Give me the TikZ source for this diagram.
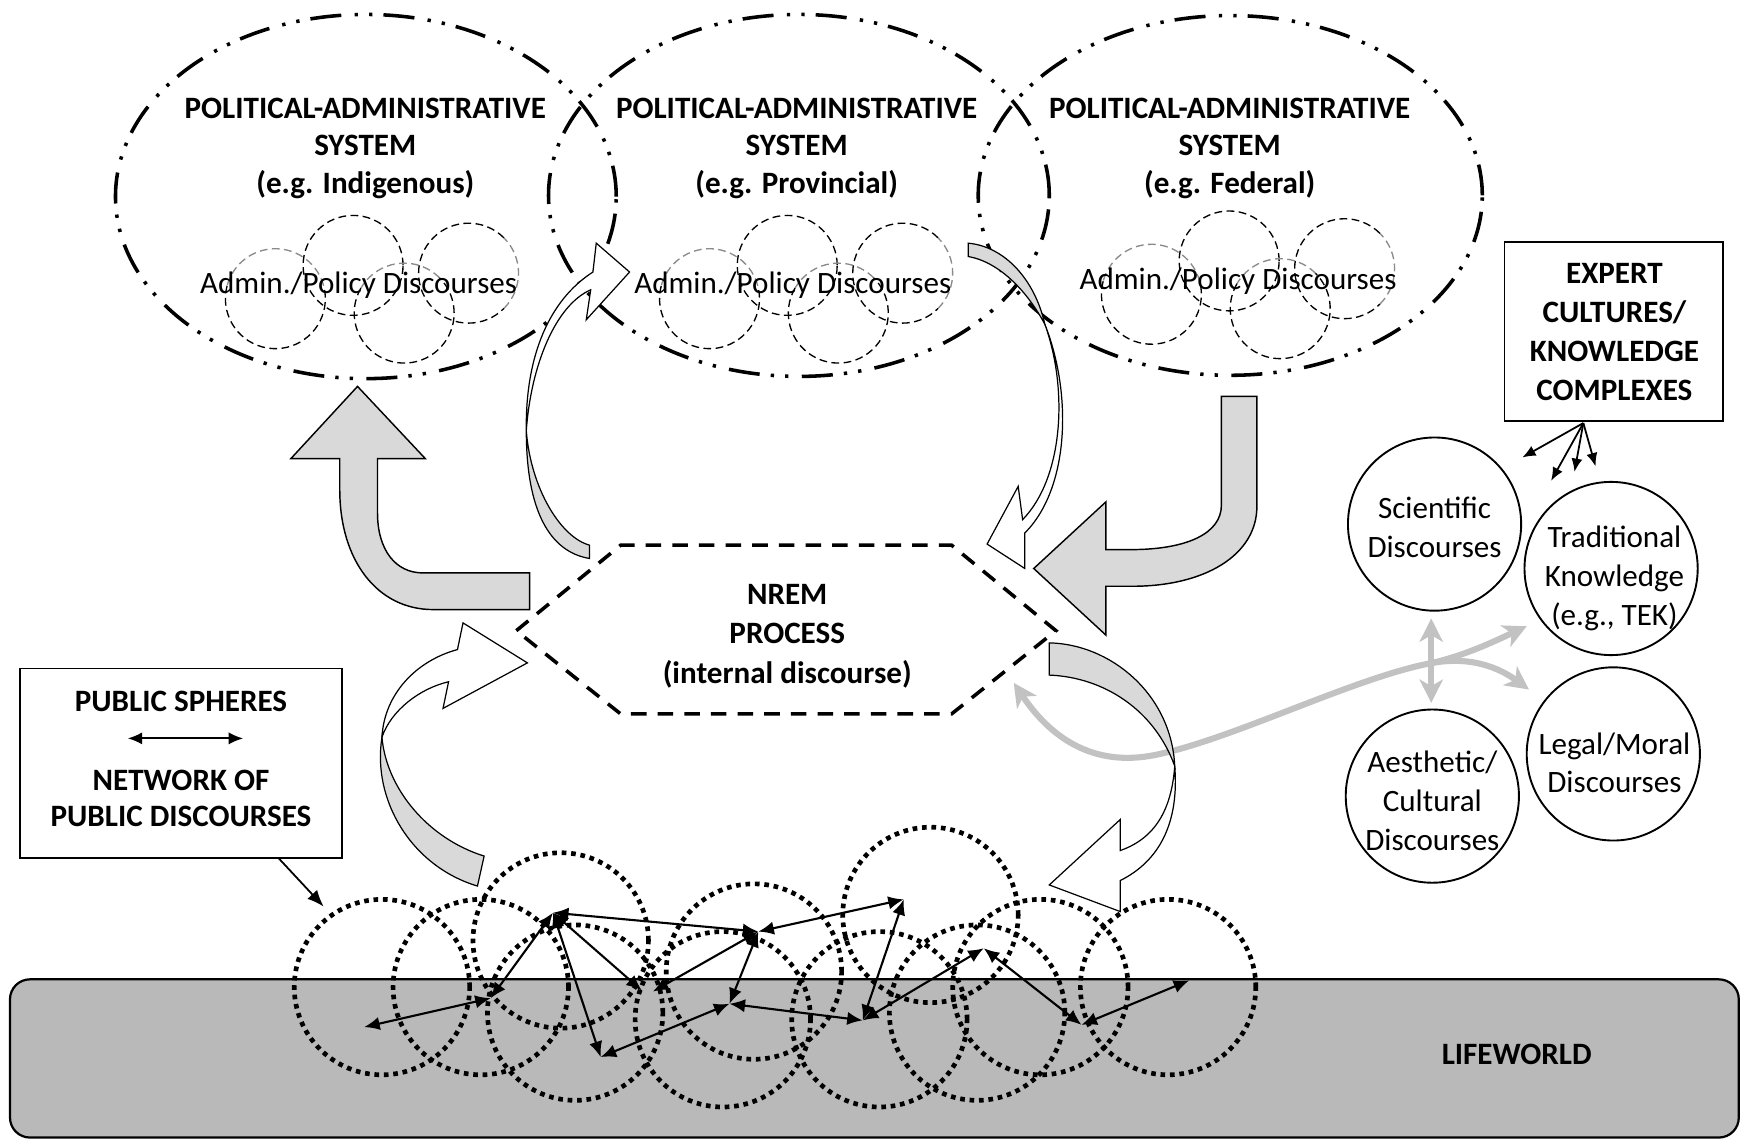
\documentclass[tikz,border=0pt]{standalone}
\usepackage{fontspec}
\setmainfont{Carlito}
\usetikzlibrary{arrows.meta}
\definecolor{lifegray}{HTML}{B9B9B9}
\definecolor{arrowgray}{HTML}{D9D9D9}
\definecolor{linkgray}{HTML}{C2C2C2}
\definecolor{cloudgray}{HTML}{8A8A8A}

\begin{document}
\begin{tikzpicture}[x=1pt,y=-1pt,
  txt/.style={font=\fontsize{28}{35}\selectfont, align=center, inner sep=0pt},
  boldtxt/.style={txt, font=\fontsize{28}{34}\selectfont\bfseries},
  system/.style={draw, line width=3.2pt, dash pattern=on 28pt off 10pt on 3pt off 10pt on 3pt off 12pt},
  cloud/.style={draw, line width=1.2pt, dash pattern=on 7pt off 4pt},
  cloudhl/.style={draw=cloudgray, line width=1.2pt, dash pattern=on 7pt off 4pt},
  hexa/.style={draw, line width=3.2pt, dash pattern=on 14pt off 10pt},
  bigarrow/.style={draw, line width=1.3pt, fill=arrowgray, line join=miter},
  curvefront/.style={draw, line width=1.1pt, fill=white, line join=miter},
  curveback/.style={draw, line width=1.1pt, fill=arrowgray},
  sphere/.style={draw, line width=4.2pt, dash pattern=on 4.2pt off 4.3pt},
  link/.style={line width=1.9pt, {Latex[length=14pt,width=12pt]}-{Latex[length=14pt,width=12pt]}},
  expertlink/.style={line width=1.6pt, -{Latex[length=12pt,width=10pt]}},
  graylink/.style={draw=linkgray, line width=5.5pt},
  disc/.style={draw, circle, line width=1.7pt, minimum size=156pt, inner sep=0pt},
  textbox/.style={draw, line width=1.6pt, fill=white},
  policy cloud/.pic={
    % four overlapping discourse circles, partly drawn in grey
    \draw[cloudhl] (-75,13) ++(15:45pt) arc[start angle=15,end angle=165,radius=45pt];
    \draw[cloud] (-75,13) ++(165:45pt) arc[start angle=165,end angle=375,radius=45pt];
    \draw[cloud] (-5,-17) circle[radius=45pt];
    \draw[cloudhl] (41,26) ++(45:45pt) arc[start angle=45,end angle=150,radius=45pt];
    \draw[cloud] (41,26) ++(150:45pt) arc[start angle=150,end angle=405,radius=45pt];
    \draw[cloudhl] (99,-10) ++(-45:45pt) arc[start angle=-45,end angle=45,radius=45pt];
    \draw[cloud] (99,-10) ++(45:45pt) arc[start angle=45,end angle=315,radius=45pt];
  }
]
\useasboundingbox (0,0) rectangle (1568,1026);

% ---------- lifeworld ----------
\draw[line width=2pt, fill=lifegray, rounded corners=18pt] (9,882) rectangle (1566,1024.5);
\node[boldtxt] (lifeworld) at (1366,950) {LIFEWORLD};

% ---------- network of public discourses ----------
\foreach \cx/\cy in {344/889, 433/889, 505/847, 518/912, 651/918, 679/875,
                     792/918, 838/824, 880/912, 937/889, 1052/889}
  \draw[sphere] (\cx,\cy) circle[radius=79pt];

\coordinate (p1) at (328,925);
\coordinate (p2) at (442,899);
\coordinate (p3) at (498,822);
\coordinate (p4) at (541,952);
\coordinate (p5a) at (578,892);
\coordinate (p5b) at (588,893);
\coordinate (p6) at (683,839);
\coordinate (p7) at (657,904);
\coordinate (p8) at (777,919);
\coordinate (p9) at (814,810);
\coordinate (p10) at (886,854);
\coordinate (p11) at (974,923);
\coordinate (p12) at (1071,883);

\draw[link] (p1) -- (p2);
\draw[link] (p2) -- (p3);
\draw[link] (p3) -- (p4);
\draw[link] (p3) -- (p5a);
\draw[link] (p3) -- (p6);
\draw[link] (p6) -- (p5b);
\draw[link] (p4) -- (p7);
\draw[link] (p6) -- (p7);
\draw[link] (p7) -- (p8);
\draw[link] (p6) -- (p9);
\draw[link] (p9) -- (p8);
\draw[link] (p8) -- (p10);
\draw[link] (p10) -- (p11);
\draw[link] (p11) -- (p12);

% ---------- political-administrative systems ----------
\draw[system] (329.5,177) ellipse[x radius=225.5pt, y radius=164pt];
\draw[system] (719.5,176) ellipse[x radius=225.5pt, y radius=163pt];
\draw[system] (1108,176) ellipse[x radius=227pt, y radius=162pt];

\pic at (323,256) {policy cloud};
\pic at (714,256) {policy cloud};
\pic at (1112,252) {policy cloud};

\node[boldtxt] (sysA) at (329,133.5) {POLITICAL-ADMINISTRATIVE\\SYSTEM\\(e.g. Indigenous)};
\node[boldtxt] (sysB) at (717.5,133.5) {POLITICAL-ADMINISTRATIVE\\SYSTEM\\(e.g. Provincial)};
\node[boldtxt] (sysC) at (1107.5,133.5) {POLITICAL-ADMINISTRATIVE\\SYSTEM\\(e.g. Federal)};

\node[txt] (polA) at (323,257) {Admin./Policy Discourses};
\node[txt] (polB) at (714,257) {Admin./Policy Discourses};
\node[txt] (polC) at (1115,253) {Admin./Policy Discourses};

% ---------- NREM process ----------
\draw[hexa] (465,568) -- (559,491) -- (857,491) -- (951,568) -- (857,643) -- (559,643) -- cycle;
\node[boldtxt, font=\fontsize{28}{35.5}\selectfont\bfseries] (nrem) at (709,573) {NREM\\PROCESS\\(internal discourse)};

% ---------- bent block arrows ----------
\draw[bigarrow] (477,516) -- (381,516) .. controls (356,516) and (340,495) .. (340,462)
  -- (340,413) -- (383,413) -- (322,348) -- (262,413) -- (306,413) -- (306,441)
  .. controls (306,505) and (340,549) .. (390,549) -- (477,549) -- cycle;

\draw[bigarrow] (1100,357) -- (1132,357) -- (1132,456)
  .. controls (1132,500) and (1085,528) .. (1020,528) -- (996,528) -- (996,572)
  -- (931,512) -- (996,452) -- (996,495) -- (1018,495)
  .. controls (1070,495) and (1100,480) .. (1100,455) -- cycle;

% ---------- grey links between expert discourses and NREM ----------
\coordinate (linkTip) at (913,615);
\coordinate (linkFork) at (1290,597);
\coordinate (linkTrad) at (1375,564);
\coordinate (linkLegal) at (1377,621);
\coordinate (linkUp) at (1289,557);
\coordinate (linkDown) at (1289,633);
\draw[graylink, {Stealth[length=21pt,width=21pt,inset=6pt,linkgray]}-{Stealth[length=21pt,width=21pt,inset=6pt,linkgray]}]
  (linkTip) .. controls (950,670) and (990,690) .. (1040,680)
  .. controls (1110,666) and (1220,610) .. (linkFork)
  .. controls (1320,590) and (1345,578) .. (linkTrad);
\draw[graylink, -{Stealth[length=21pt,width=21pt,inset=6pt,linkgray]}]
  (linkFork) .. controls (1330,590) and (1355,605) .. (linkLegal);
\draw[graylink, {Stealth[length=21pt,width=21pt,inset=6pt,linkgray]}-{Stealth[length=21pt,width=21pt,inset=6pt,linkgray]}]
  (linkUp) -- (linkDown);

% ---------- curved block arrows ----------
% NREM -> provincial system
\draw[curveback] (531,503) .. controls (495,497) and (474,460) .. (474,388)
  .. controls (478,440) and (505,484) .. (531,491) -- cycle;
\draw[curvefront] (474,388) .. controls (478,330) and (500,275) .. (532,261)
  -- (528,288) -- (567,245) -- (537,219) -- (534,245)
  .. controls (495,270) and (473,320) .. (474,388) -- cycle;
% provincial system -> NREM
\draw[curveback] (872,219) .. controls (905,222) and (932,252) .. (941,292)
  .. controls (925,262) and (900,236) .. (872,231) -- cycle;
\draw[curvefront] (941,292) .. controls (966,355) and (963,440) .. (923,480)
  -- (923,512) -- (889,490) -- (917,438) -- (921,468)
  .. controls (958,430) and (962,350) .. (941,292) -- cycle;
% NREM -> lifeworld
\draw[curveback] (945,579) .. controls (1000,580) and (1055,625) .. (1058,690)
  .. controls (1040,640) and (995,610) .. (945,608) -- cycle;
\draw[curvefront] (1058,690) .. controls (1062,740) and (1045,775) .. (1009,793)
  -- (1009,821) -- (945,797) -- (1009,738) -- (1009,766)
  .. controls (1040,755) and (1055,730) .. (1058,690) -- cycle;
% lifeworld -> NREM
\draw[curveback] (430,798) .. controls (370,780) and (335,720) .. (344,664)
  .. controls (348,710) and (385,755) .. (436,771) -- cycle;
\draw[curvefront] (344,664) .. controls (346,625) and (375,595) .. (412,585)
  -- (417,561) -- (475,597) -- (399,638) -- (404,614)
  .. controls (378,620) and (352,640) .. (344,664) -- cycle;

% ---------- expert cultures ----------
\node[textbox, minimum width=197pt, minimum height=161pt] (expert) at (1453.5,298.5) {};
\node[boldtxt, font=\fontsize{28}{35.3}\selectfont\bfseries] (expertTxt) at (1454,299) {EXPERT\\CULTURES/\\KNOWLEDGE\\COMPLEXES};

\node[disc] (sci) at (1292,472) {};
\node[disc] (trad) at (1451,512) {};
\node[disc] (aes) at (1290,717) {};
\node[disc] (legal) at (1453,679) {};
\node[txt] (sciTxt) at (1292,475) {Scientific\\Discourses};
\node[txt] (tradTxt) at (1454,521) {Traditional\\Knowledge\\(e.g., TEK)};
\node[txt] (aesTxt) at (1290,721) {Aesthetic/\\Cultural\\Discourses};
\node[txt] (legalTxt) at (1454,687) {Legal/Moral\\Discourses};

\coordinate (expertOut) at (1426,381);
\coordinate (eA) at (1371,412);
\coordinate (eB) at (1397,433);
\coordinate (eC) at (1418,425);
\coordinate (eD) at (1437,420);
\draw[expertlink] (expertOut) -- (eA);
\draw[expertlink] (expertOut) -- (eB);
\draw[expertlink] (expertOut) -- (eC);
\draw[expertlink] (expertOut) -- (eD);

% ---------- public spheres ----------
\node[textbox, minimum width=289.5pt, minimum height=171pt] (public) at (163,687.5) {};
\node[boldtxt] (pubTop) at (163,632) {PUBLIC SPHERES};
\node[boldtxt, font=\fontsize{28}{33}\selectfont\bfseries] (pubBottom) at (163,719) {NETWORK OF\\PUBLIC DISCOURSES};
\coordinate (pubL) at (115,665);
\coordinate (pubR) at (219,665);
\draw[line width=1.8pt, {Latex[length=13pt,width=11pt]}-{Latex[length=13pt,width=11pt]}] (pubL) -- (pubR);
\coordinate (pubOut) at (251,773);
\coordinate (pubIn) at (291.5,816.5);
\draw[line width=1.6pt, -{Latex[length=15pt,width=12pt]}] (pubOut) -- (pubIn);

\end{tikzpicture}
\end{document}
